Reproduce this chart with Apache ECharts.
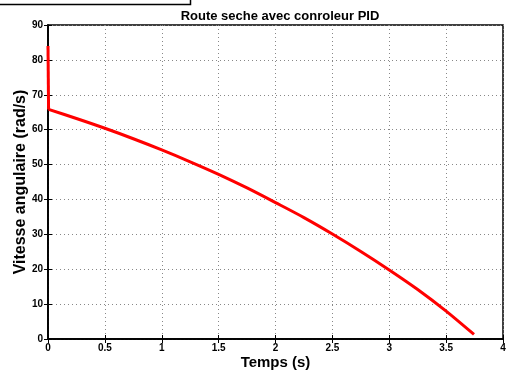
<!DOCTYPE html>
<html>
<head>
<meta charset="utf-8">
<script src="https://cdn.jsdelivr.net/npm/echarts@6/dist/echarts.min.js"></script>
<style>
  html, body { margin: 0; padding: 0; background: #fff; }
  #chart { width: 509px; height: 376px; }
</style>
</head>
<body>
<div id="chart"></div>
<script>
  // temps (s) et vitesse angulaire (rad/s)
  var temps = [0, 0.005, 0.25, 0.5, 0.75, 1, 1.25, 1.5, 1.75, 2, 2.25, 2.5, 2.75, 3, 3.25, 3.5, 3.745];
  var vitesse = [84, 65.8, 63.2, 60.4, 57.4, 54.2, 50.8, 47.2, 43.3, 39.1, 34.8, 30.1, 25.1, 19.8, 14.2, 8.0, 1.3];
  var xTicks = [0, 0.5, 1, 1.5, 2, 2.5, 3, 3.5, 4];
  var yTicks = [0, 10, 20, 30, 40, 50, 60, 70, 80, 90];

  // pic initial (chute verticale) puis décroissance
  var spike = [[temps[0], vitesse[0]], [temps[1], vitesse[1]]];
  var curve = [];
  for (var i = 1; i < temps.length; i++) {
    curve.push([temps[i], vitesse[i]]);
  }

  var font = 'Liberation Sans, Arial, sans-serif';
  var lineStyle = { color: '#ff0000', width: 3 };
  var xMin = xTicks[0], xMax = xTicks[xTicks.length - 1];
  var yMin = yTicks[0], yMax = yTicks[yTicks.length - 1];

  // axes du haut et de droite : seulement les graduations (boîte façon MATLAB)
  var boxAxis = {
    axisLine: { lineStyle: { color: '#000', width: 1.5 } },
    axisTick: { inside: true, length: 4, lineStyle: { color: '#000' } },
    axisLabel: { show: false },
    splitLine: { show: false }
  };

  var chart = echarts.init(document.getElementById('chart'));
  chart.setOption({
    animation: false,
    title: {
      text: 'Route seche avec conroleur PID',
      left: 275, top: 5, textAlign: 'center',
      textStyle: { fontFamily: font, fontSize: 13, fontWeight: 'bold', color: '#000' }
    },
    grid: {
      left: 48, right: 6, top: 25, bottom: 37,
      outerBoundsMode: 'none',
      show: true, borderColor: '#000', borderWidth: 1.5, backgroundColor: '#fff'
    },
    graphic: [{
      type: 'polyline',
      shape: { points: [[0, 4.5], [190.5, 4.5], [190.5, 0]] },
      style: { stroke: '#000', lineWidth: 1.5, fill: null }
    }],
    xAxis: [{
      type: 'value', min: xMin, max: xMax, interval: 0.5,
      name: 'Temps (s)', nameLocation: 'middle', nameGap: 16, nameMoveOverlap: false,
      nameTextStyle: { fontFamily: font, fontSize: 15, fontWeight: 'bold', color: '#000' },
      axisLine: { lineStyle: { color: '#000', width: 1.5 } },
      axisTick: { inside: true, length: 4, lineStyle: { color: '#000' } },
      axisLabel: { fontFamily: font, fontSize: 10, fontWeight: 'bold', color: '#000', margin: 4 },
      splitLine: { show: true, lineStyle: { color: '#888', type: [1, 3], width: 1 } }
    }, Object.assign({ type: 'value', position: 'top', min: xMin, max: xMax, interval: 0.5 }, boxAxis)],
    yAxis: [{
      type: 'value', min: yMin, max: yMax, interval: 10,
      name: 'Vitesse angulaire (rad/s)', nameLocation: 'middle', nameGap: 19, nameMoveOverlap: false,
      nameTextStyle: { fontFamily: font, fontSize: 16, fontWeight: 'bold', color: '#000' },
      axisLine: { lineStyle: { color: '#000', width: 1.5 } },
      axisTick: { inside: true, length: 4, lineStyle: { color: '#000' } },
      axisLabel: { fontFamily: font, fontSize: 10, fontWeight: 'bold', color: '#000', margin: 5 },
      splitLine: { show: true, lineStyle: { color: '#888', type: [1, 3], width: 1 } }
    }, Object.assign({ type: 'value', position: 'right', min: yMin, max: yMax, interval: 10 }, boxAxis)],
    series: [{
      type: 'line',
      data: spike,
      showSymbol: false,
      lineStyle: lineStyle
    }, {
      type: 'line',
      data: curve,
      showSymbol: false,
      smooth: 0.3,
      lineStyle: lineStyle
    }]
  });
</script>
</body>
</html>
